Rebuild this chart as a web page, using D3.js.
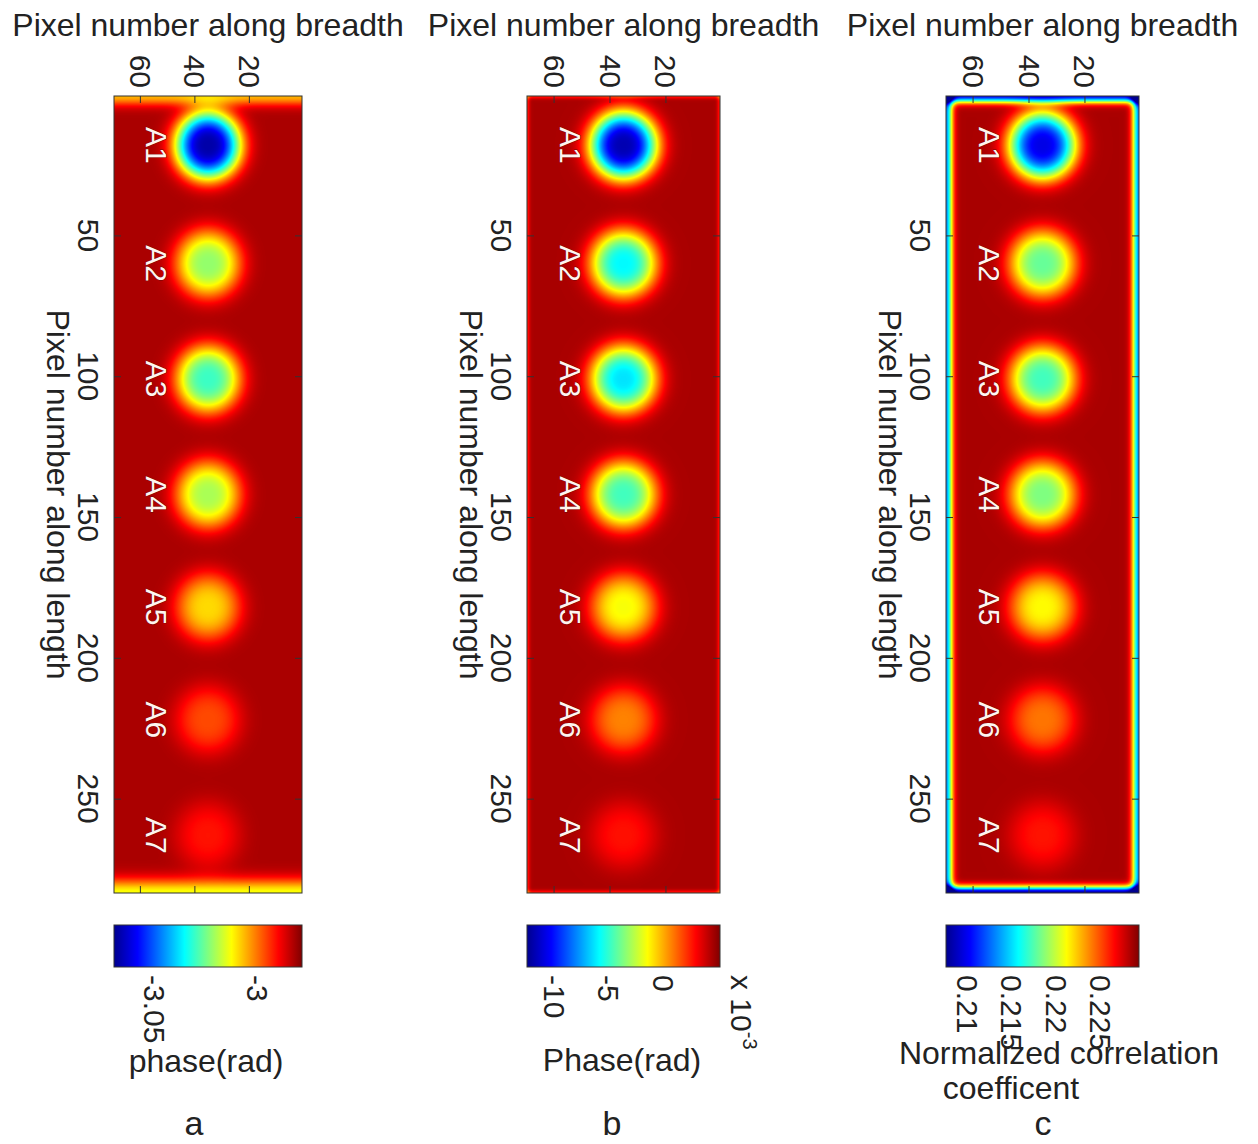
<!DOCTYPE html>
<html>
<head>
<meta charset="utf-8">
<script src="https://cdn.jsdelivr.net/npm/d3@7"></script>
<style>
  body { margin: 0; background: #fff; }
  svg { font-family: "Liberation Sans", Arial, sans-serif; }
</style>
</head>
<body>
<svg id="chart" width="1258" height="1144"></svg>
<script>
// axis extents and ticks (image pixels)
const BREADTH_EXTENT = [69.5, 0.5];
const LENGTH_EXTENT = [0.5, 283.5];
const BREADTH_TICKS = [60, 40, 20];
const LENGTH_TICKS = [50, 100, 150, 200, 250];

// the seven spots
const SPOT_LABELS = ['A1', 'A2', 'A3', 'A4', 'A5', 'A6', 'A7'];
const SPOT_LENGTH = [18, 60, 101, 142, 182, 222, 263];
const SPOT_BREADTH = [35, 35, 35, 35, 35, 35, 35];
const SPOT_RADIUS = 12;
const LABEL_BREADTH = 54;

// panel a - phase
const PHASE_A_RANGE = [-3.0696, -2.978];
const PHASE_A_TICKS = [-3.05, -3];
const PHASE_A_TICK_LABELS = ['-3.05', '-3'];
const PHASE_A_BACKGROUND = -2.9817;
const PHASE_A_SPOTS = [-3.067, -3.022, -3.030, -3.020, -3.009, -2.996, -2.991];
const PHASE_A_EDGES = [-3.0055, -3.0128, -2.9817, -2.9817]; // top, bottom, left, right
const PHASE_A_EDGE_WIDTHS = [3.5, 5, 1, 1];

// panel b - phase (x 10^-3)
const PHASE_B_RANGE = [-0.0125, 0.00528];
const PHASE_B_TICKS = [-0.01, -0.005, 0];
const PHASE_B_TICK_LABELS = ['-10', '-5', '0'];
const PHASE_B_BACKGROUND = 0.00457;
const PHASE_B_SPOTS = [-0.0118, -0.0059, -0.0063, -0.0047, -0.0015, 0.0008, 0.0028];
const PHASE_B_EDGES = [0.0025, 0.0025, 0.0025, 0.0025];
const PHASE_B_EDGE_WIDTHS = [1, 1, 1, 1];

// panel c - normalized correlation coefficient
const CORR_RANGE = [0.20767, 0.2294];
const CORR_TICKS = [0.21, 0.215, 0.22, 0.225];
const CORR_TICK_LABELS = ['0.21', '0.215', '0.22', '0.225'];
const CORR_BACKGROUND = 0.22853;
const CORR_SPOTS = [0.2098, 0.2180, 0.2172, 0.2185, 0.2213, 0.2242, 0.2263];
const CORR_EDGES = [0.2105, 0.2082, 0.2135, 0.2135];
const CORR_EDGE_WIDTHS = [2.4, 2.4, 2.4, 2.4];

// jet colour map
const JET_STOPS = [0, 0.125, 0.375, 0.625, 0.875, 1];
const JET_COLOURS = ['#00008f', '#0000ff', '#00ffff', '#ffff00', '#ff0000', '#800000'];

const PLOT_TOP = 96;
const PLOT_BOTTOM = 893;
const CB_TOP = 925;
const CB_BOTTOM = 967;
const TICK_FONT = 30;
const LABEL_FONT = 32;

const panels = [
  {
    left: 114, right: 302, range: PHASE_A_RANGE, ticks: PHASE_A_TICKS, tickLabels: PHASE_A_TICK_LABELS,
    background: PHASE_A_BACKGROUND, spots: PHASE_A_SPOTS, edges: PHASE_A_EDGES, edgeWidths: PHASE_A_EDGE_WIDTHS,
    caption: ['phase(rad)'], captionX: [206], captionY: [1072], letter: 'a', letterX: 194
  },
  {
    left: 527, right: 720, range: PHASE_B_RANGE, ticks: PHASE_B_TICKS, tickLabels: PHASE_B_TICK_LABELS,
    background: PHASE_B_BACKGROUND, spots: PHASE_B_SPOTS, edges: PHASE_B_EDGES, edgeWidths: PHASE_B_EDGE_WIDTHS,
    caption: ['Phase(rad)'], captionX: [622], captionY: [1071], letter: 'b', letterX: 612, exponent: true
  },
  {
    left: 946, right: 1139, range: CORR_RANGE, ticks: CORR_TICKS, tickLabels: CORR_TICK_LABELS,
    background: CORR_BACKGROUND, spots: CORR_SPOTS, edges: CORR_EDGES, edgeWidths: CORR_EDGE_WIDTHS,
    caption: ['Normalized correlation', 'coefficent'], captionX: [1059, 1011], captionY: [1064, 1099], letter: 'c', letterX: 1043
  }
];

const svg = d3.select('#chart');

const fieldValue = (p, b, l) => {
  let v = p.background;
  for (let i = 0; i < SPOT_LENGTH.length; i++) {
    const r = Math.hypot(b - SPOT_BREADTH[i], l - SPOT_LENGTH[i]);
    v += (p.spots[i] - p.background) * Math.exp(-Math.pow(r / SPOT_RADIUS, 3));
  }
  const dist = [l - LENGTH_EXTENT[0], LENGTH_EXTENT[1] - l, BREADTH_EXTENT[0] - b, b - BREADTH_EXTENT[1]];
  for (let k = 0; k < 4; k++) {
    v += (p.edges[k] - p.background) * Math.exp(-Math.pow(dist[k] / p.edgeWidths[k], 2));
  }
  return v;
};

panels.forEach((p, idx) => {
  const x = d3.scaleLinear().domain(BREADTH_EXTENT).range([p.left, p.right]);
  const y = d3.scaleLinear().domain(LENGTH_EXTENT).range([PLOT_TOP, PLOT_BOTTOM]);
  const [lo, hi] = p.range;
  const colour = d3.scaleLinear()
    .domain(JET_STOPS.map(t => lo + t * (hi - lo)))
    .range(JET_COLOURS)
    .clamp(true);

  // colour lookup built from the scale
  const lutSize = 512;
  const lut = d3.range(lutSize).map(i => d3.rgb(colour(lo + (i / (lutSize - 1)) * (hi - lo))));

  // heat map drawn pixel by pixel through the scales
  const w = Math.round(p.right - p.left);
  const h = Math.round(PLOT_BOTTOM - PLOT_TOP);
  const canvas = document.createElement('canvas');
  canvas.width = w;
  canvas.height = h;
  const ctx = canvas.getContext('2d');
  const img = ctx.createImageData(w, h);
  for (let py = 0; py < h; py++) {
    const l = y.invert(PLOT_TOP + py + 0.5);
    for (let px = 0; px < w; px++) {
      const b = x.invert(p.left + px + 0.5);
      const v = fieldValue(p, b, l);
      let k = Math.round(((v - lo) / (hi - lo)) * (lutSize - 1));
      k = Math.max(0, Math.min(lutSize - 1, k));
      const c = lut[k];
      const o = (py * w + px) * 4;
      img.data[o] = c.r;
      img.data[o + 1] = c.g;
      img.data[o + 2] = c.b;
      img.data[o + 3] = 255;
    }
  }
  ctx.putImageData(img, 0, 0);

  const g = svg.append('g').attr('class', `panel-${p.letter}`);
  g.append('image')
    .attr('x', p.left).attr('y', PLOT_TOP)
    .attr('width', w).attr('height', h)
    .attr('preserveAspectRatio', 'none')
    .attr('href', canvas.toDataURL());

  // inward tick marks on all four sides
  const tickLen = 7;
  g.append('g').attr('transform', `translate(0,${PLOT_TOP})`)
    .call(d3.axisTop(x).tickValues(BREADTH_TICKS).tickSize(-tickLen).tickFormat(''));
  g.append('g').attr('transform', `translate(0,${PLOT_BOTTOM})`)
    .call(d3.axisBottom(x).tickValues(BREADTH_TICKS).tickSize(-tickLen).tickFormat(''));
  g.append('g').attr('transform', `translate(${p.left},0)`)
    .call(d3.axisLeft(y).tickValues(LENGTH_TICKS).tickSize(-tickLen).tickFormat(''));
  g.append('g').attr('transform', `translate(${p.right},0)`)
    .call(d3.axisRight(y).tickValues(LENGTH_TICKS).tickSize(-tickLen).tickFormat(''));
  g.selectAll('.domain').remove();
  g.selectAll('.tick line').attr('stroke', '#333').attr('stroke-width', 1);
  g.append('rect')
    .attr('x', p.left).attr('y', PLOT_TOP)
    .attr('width', p.right - p.left).attr('height', PLOT_BOTTOM - PLOT_TOP)
    .attr('fill', 'none').attr('stroke', '#333').attr('stroke-width', 1);

  // rotated tick labels
  g.selectAll('text.breadth-tick')
    .data(BREADTH_TICKS)
    .enter().append('text')
    .attr('class', 'breadth-tick')
    .attr('transform', d => `translate(${x(d) - 10},${PLOT_TOP - 8}) rotate(90)`)
    .attr('text-anchor', 'end')
    .attr('font-size', TICK_FONT)
    .attr('fill', '#222')
    .text(d => d);

  g.selectAll('text.length-tick')
    .data(LENGTH_TICKS)
    .enter().append('text')
    .attr('class', 'length-tick')
    .attr('transform', d => `translate(${p.left - 36},${y(d)}) rotate(90)`)
    .attr('text-anchor', 'middle')
    .attr('font-size', TICK_FONT)
    .attr('fill', '#222')
    .text(d => d);

  // axis titles
  g.append('text')
    .attr('x', (p.left + p.right) / 2)
    .attr('y', 36)
    .attr('text-anchor', 'middle')
    .attr('font-size', LABEL_FONT)
    .attr('fill', '#222')
    .text('Pixel number along breadth');

  g.append('text')
    .attr('transform', `translate(${p.left - 67},${(PLOT_TOP + PLOT_BOTTOM) / 2}) rotate(90)`)
    .attr('text-anchor', 'middle')
    .attr('font-size', LABEL_FONT)
    .attr('fill', '#222')
    .text('Pixel number along length');

  // spot labels
  g.selectAll('text.spot')
    .data(SPOT_LABELS)
    .enter().append('text')
    .attr('class', 'spot')
    .attr('transform', (d, i) => `translate(${x(LABEL_BREADTH)},${y(SPOT_LENGTH[i])}) rotate(90)`)
    .attr('text-anchor', 'middle')
    .attr('dominant-baseline', 'central')
    .attr('font-size', 30)
    .attr('fill', '#fff4f0')
    .attr('stroke', '#6a0a0a')
    .attr('stroke-width', 0.8)
    .attr('paint-order', 'stroke')
    .text(d => d);

  // colour bar
  const cb = d3.scaleLinear().domain(p.range).range([p.left, p.right]);
  const gradId = `jet-${idx}`;
  const grad = svg.append('defs').append('linearGradient')
    .attr('id', gradId)
    .attr('x1', '0%').attr('x2', '100%').attr('y1', '0%').attr('y2', '0%');
  grad.selectAll('stop')
    .data(JET_STOPS)
    .enter().append('stop')
    .attr('offset', d => `${d * 100}%`)
    .attr('stop-color', (d, i) => JET_COLOURS[i]);
  g.append('rect')
    .attr('x', cb(lo)).attr('y', CB_TOP)
    .attr('width', cb(hi) - cb(lo)).attr('height', CB_BOTTOM - CB_TOP)
    .attr('fill', `url(#${gradId})`)
    .attr('stroke', '#333').attr('stroke-width', 1);

  g.selectAll('text.cb-tick')
    .data(p.ticks)
    .enter().append('text')
    .attr('class', 'cb-tick')
    .attr('transform', d => `translate(${cb(d) - 10},${CB_BOTTOM + 8}) rotate(90)`)
    .attr('text-anchor', 'start')
    .attr('font-size', TICK_FONT)
    .attr('fill', '#222')
    .text((d, i) => p.tickLabels[i]);

  if (p.exponent) {
    const ex = g.append('text')
      .attr('transform', `translate(${p.right + 11},${CB_BOTTOM + 8}) rotate(90)`)
      .attr('text-anchor', 'start')
      .attr('font-size', TICK_FONT)
      .attr('fill', '#222');
    ex.append('tspan').text('x 10');
    ex.append('tspan').attr('dy', -12).attr('font-size', 20).text('-3');
  }

  p.caption.forEach((line, i) => {
    g.append('text')
      .attr('x', p.captionX[i])
      .attr('y', p.captionY[i])
      .attr('text-anchor', 'middle')
      .attr('font-size', LABEL_FONT)
      .attr('fill', '#222')
      .text(line);
  });

  g.append('text')
    .attr('x', p.letterX)
    .attr('y', 1135)
    .attr('text-anchor', 'middle')
    .attr('font-size', 34)
    .attr('fill', '#222')
    .text(p.letter);
});
</script>
</body>
</html>
